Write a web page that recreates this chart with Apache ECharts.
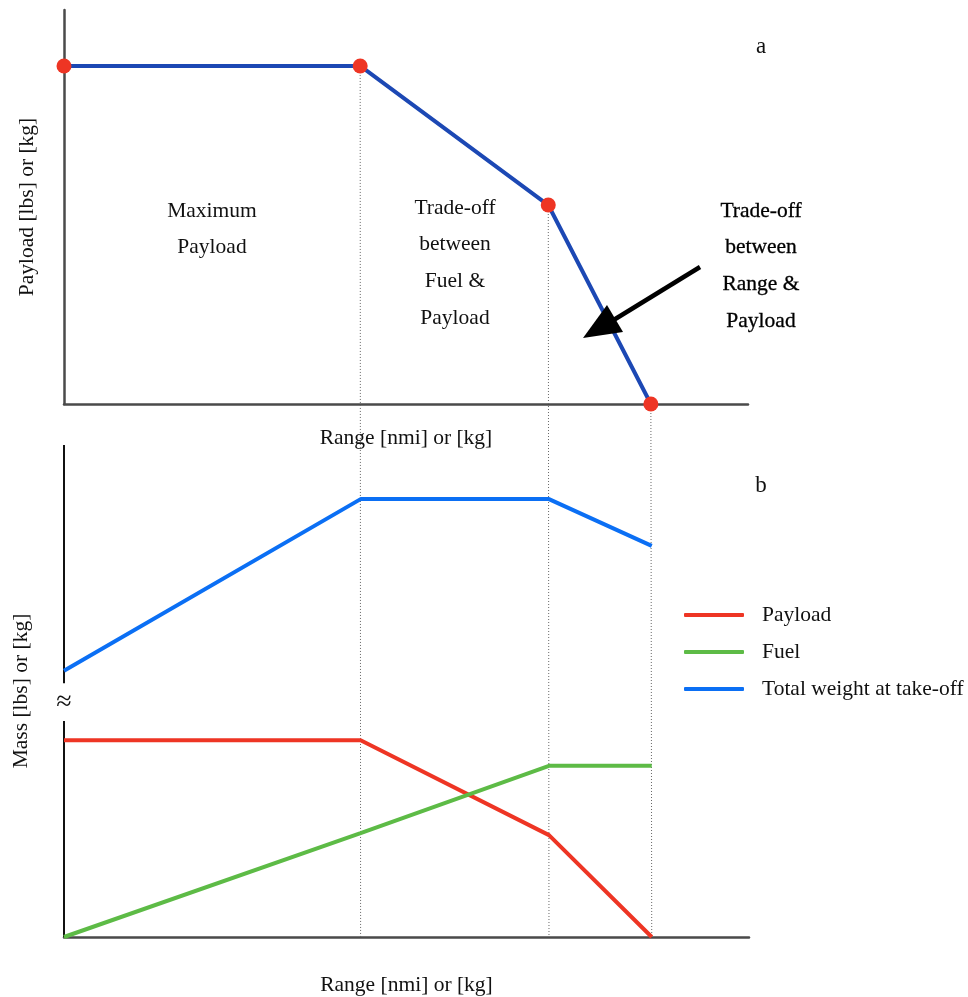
<!DOCTYPE html>
<html>
<head>
<meta charset="utf-8">
<script src="https://cdn.jsdelivr.net/npm/echarts@6/dist/echarts.min.js"></script>
<style>
  html, body { margin: 0; padding: 0; background: #ffffff; }
  #chart { width: 968px; height: 997px; }
</style>
</head>
<body>
<div id="chart"></div>
<script>
// Range breakpoints (relative units along the range axis)
const rangeSteps = [0, 43.3, 70.8, 85.8];
// Panel a: payload vs range
const payloadRange = [85.8, 85.8, 50.5, 0];
// Panel b: masses vs range
const payloadMass = [40.0, 40.0, 20.7, 0];
const fuelMass = [0, 21.1, 34.8, 34.8];
const takeoffMass = [54.1, 89.0, 89.0, 79.5];
const seriesNames = ['Payload', 'Fuel', 'Total weight at take-off'];
// Mass axis is interrupted between these two values
const massBreak = [43.9, 51.6];

const SERIF = "'Liberation Serif', 'Times New Roman', serif";
const INK = '#111111';
const FS = 21.5;

function pairs(xs, ys) { return xs.map((x, i) => [x, ys[i]]); }

const chart = echarts.init(document.getElementById('chart'), null, { renderer: 'canvas' });

const hiddenBits = {
  axisTick: { show: false },
  axisLabel: { show: false },
  splitLine: { show: false }
};

chart.setOption({
  animation: false,
  backgroundColor: '#ffffff',
  textStyle: { fontFamily: SERIF },
  grid: [
    { left: 64, right: 220, top: 10, bottom: 593, outerBoundsMode: 'none', containLabel: false },
    { left: 64, right: 219, top: 445, bottom: 60, outerBoundsMode: 'none', containLabel: false }
  ],
  xAxis: [
    {
      gridIndex: 0, type: 'value', min: 0, max: 100,
      name: 'Range [nmi] or [kg]', nameLocation: 'middle', nameGap: 23,
      nameTextStyle: { fontFamily: SERIF, fontSize: FS, color: INK },
      axisLine: { onZero: false, lineStyle: { color: '#4a4a4a', width: 2.5 } },
      ...hiddenBits
    },
    {
      gridIndex: 1, type: 'value', min: 0, max: 100,
      name: 'Range [nmi] or [kg]', nameLocation: 'middle', nameGap: 37,
      nameTextStyle: { fontFamily: SERIF, fontSize: FS, color: INK },
      axisLine: { onZero: false, lineStyle: { color: '#4a4a4a', width: 2.5 } },
      ...hiddenBits
    }
  ],
  yAxis: [
    {
      gridIndex: 0, type: 'value', min: 0, max: 100,
      name: 'Payload [lbs] or [kg]', nameLocation: 'middle', nameGap: 26,
      nameTextStyle: { fontFamily: SERIF, fontSize: FS, color: INK },
      axisLine: { show: true, onZero: false, lineStyle: { color: '#4a4a4a', width: 2.5 } },
      ...hiddenBits
    },
    {
      gridIndex: 1, type: 'value', min: 0, max: 100,
      name: 'Mass [lbs] or [kg]', nameLocation: 'middle', nameGap: 32,
      nameTextStyle: { fontFamily: SERIF, fontSize: FS, color: INK },
      axisLine: { show: false },
      ...hiddenBits
    }
  ],
  legend: {
    data: seriesNames,
    orient: 'vertical',
    left: 684, top: 604,
    icon: 'roundRect',
    itemWidth: 60, itemHeight: 4,
    itemGap: 15,
    padding: 0,
    textStyle: { fontFamily: SERIF, fontSize: FS, color: INK, lineHeight: 22, padding: [0, 0, 0, 13] }
  },
  series: [
    {
      name: 'Payload–range', type: 'line',
      xAxisIndex: 0, yAxisIndex: 0,
      data: pairs(rangeSteps, payloadRange),
      symbol: 'circle', symbolSize: 15, showSymbol: true,
      itemStyle: { color: '#ee3524' },
      lineStyle: { color: '#1c48b4', width: 4 },
      z: 3
    },
    {
      name: seriesNames[0], type: 'line',
      xAxisIndex: 1, yAxisIndex: 1,
      data: pairs(rangeSteps, payloadMass),
      symbol: 'none', color: '#ee3524',
      lineStyle: { color: '#ee3524', width: 4 }, z: 3
    },
    {
      name: seriesNames[1], type: 'line',
      xAxisIndex: 1, yAxisIndex: 1,
      data: pairs(rangeSteps, fuelMass),
      symbol: 'none', color: '#5dbb46',
      lineStyle: { color: '#5dbb46', width: 4 }, z: 3
    },
    {
      name: seriesNames[2], type: 'line',
      xAxisIndex: 1, yAxisIndex: 1,
      data: pairs(rangeSteps, takeoffMass),
      symbol: 'none', color: '#0b6ff4',
      lineStyle: { color: '#0b6ff4', width: 4 }, z: 3
    }
  ]
});

// Overlays placed from the axes' own scales
const graphics = [];

// Dotted guides dropping from each breakpoint down to the lower range axis
for (let i = 1; i < rangeSteps.length; i++) {
  const top = chart.convertToPixel({ gridIndex: 0 }, [rangeSteps[i], payloadRange[i]]);
  const bottom = chart.convertToPixel({ gridIndex: 1 }, [rangeSteps[i], 0]);
  graphics.push({
    type: 'line', z: 1, silent: true,
    shape: { x1: top[0], y1: top[1], x2: bottom[0], y2: bottom[1] },
    style: { stroke: '#666666', lineWidth: 1, lineDash: [1, 2] }
  });
}

// Interrupted mass axis with a break mark
const axTop = chart.convertToPixel({ gridIndex: 1 }, [0, 100]);
const axHi = chart.convertToPixel({ gridIndex: 1 }, [0, massBreak[1]]);
const axLo = chart.convertToPixel({ gridIndex: 1 }, [0, massBreak[0]]);
const axBot = chart.convertToPixel({ gridIndex: 1 }, [0, 0]);
graphics.push(
  { type: 'line', z: 2, shape: { x1: axTop[0], y1: axTop[1], x2: axHi[0], y2: axHi[1] },
    style: { stroke: '#111111', lineWidth: 2 } },
  { type: 'line', z: 2, shape: { x1: axLo[0], y1: axLo[1], x2: axBot[0], y2: axBot[1] },
    style: { stroke: '#111111', lineWidth: 2 } },
  { type: 'text', z: 4,
    style: { text: '≈', x: axHi[0], y: (axHi[1] + axLo[1]) / 2 + 1, align: 'center', verticalAlign: 'middle',
      fontFamily: SERIF, fontSize: 28, fill: INK } }
);

// Panel letters
graphics.push(
  { type: 'text', style: { text: 'a', x: 761, y: 47, align: 'center', verticalAlign: 'middle',
      fontFamily: SERIF, fontSize: 23, fill: INK } },
  { type: 'text', style: { text: 'b', x: 761, y: 486, align: 'center', verticalAlign: 'middle',
      fontFamily: SERIF, fontSize: 23, fill: INK } }
);

// Region annotations
graphics.push(
  { type: 'text', style: { text: 'Maximum\nPayload', x: 212, y: 229, align: 'center', verticalAlign: 'middle',
      fontFamily: SERIF, fontSize: FS, lineHeight: 36, fill: INK } },
  { type: 'text', style: { text: 'Trade-off\nbetween\nFuel &\nPayload', x: 455, y: 263, align: 'center', verticalAlign: 'middle',
      fontFamily: SERIF, fontSize: FS, lineHeight: 36.7, fill: INK } },
  { type: 'text', style: { text: 'Trade-off\nbetween\nRange &\nPayload', x: 761, y: 266, align: 'center', verticalAlign: 'middle',
      fontFamily: SERIF, fontSize: FS, lineHeight: 36.7, fill: '#000000',
      stroke: '#000000', lineWidth: 0.3 } }
);

// Pointer arrow
graphics.push(
  { type: 'line', z: 5, shape: { x1: 700, y1: 267, x2: 612, y2: 321 },
    style: { stroke: '#000000', lineWidth: 4.5 } },
  { type: 'polygon', z: 5, shape: { points: [[583, 338], [607, 305], [623, 332]] },
    style: { fill: '#000000' } }
);

chart.setOption({ graphic: graphics });
</script>
</body>
</html>
